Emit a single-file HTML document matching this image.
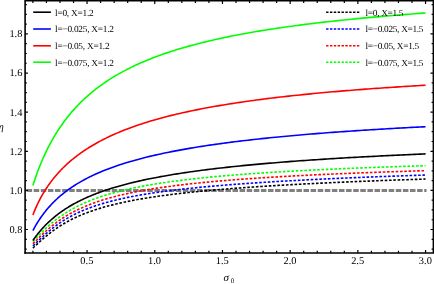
<!DOCTYPE html><html><head><meta charset="utf-8"><style>html,body{margin:0;padding:0;background:#fff;}svg{display:block;}text{font-family:"Liberation Serif",serif;fill:#000;}</style></head><body>
<svg width="434" height="284" viewBox="0 0 434 284">
<defs><filter id="b" x="-5%" y="-5%" width="110%" height="110%"><feGaussianBlur stdDeviation="0.22"/></filter></defs>
<rect width="434" height="284" fill="#fff"/>
<line x1="26.60" y1="190.40" x2="426.56" y2="190.40" stroke="#808080" stroke-width="3" stroke-dasharray="5.5 1.6"/>
<path d="M32.90,248.03 L33.76,247.27 L34.61,246.49 L35.47,245.71 L36.33,244.92 L37.18,244.13 L38.04,243.34 L38.90,242.55 L39.76,241.77 L40.61,240.99 L41.47,240.22 L42.33,239.45 L43.18,238.70 L44.04,237.95 L44.90,237.22 L45.75,236.49 L46.61,235.78 L47.47,235.07 L48.33,234.38 L49.18,233.70 L50.04,233.03 L50.90,232.37 L51.75,231.72 L52.61,231.08 L53.47,230.45 L54.32,229.83 L55.18,229.23 L56.04,228.63 L56.89,228.04 L57.75,227.47 L58.61,226.90 L59.47,226.34 L60.32,225.80 L61.18,225.26 L62.04,224.73 L62.89,224.21 L63.75,223.71 L64.61,223.20 L65.46,222.71 L66.32,222.23 L67.18,221.75 L68.04,221.29 L68.89,220.83 L69.75,220.37 L70.61,219.93 L71.46,219.49 L72.32,219.07 L73.18,218.64 L74.03,218.23 L74.89,217.82 L75.75,217.42 L76.61,217.02 L77.46,216.63 L78.32,216.25 L79.18,215.88 L80.03,215.51 L80.89,215.14 L81.75,214.78 L82.60,214.43 L83.46,214.08 L84.32,213.74 L85.17,213.40 L86.03,213.07 L86.89,212.75 L87.75,212.42 L88.60,212.11 L89.46,211.80 L90.32,211.49 L91.17,211.18 L92.03,210.89 L92.89,210.59 L93.74,210.30 L94.60,210.02 L95.46,209.73 L96.32,209.46 L97.17,209.18 L98.03,208.91 L98.89,208.65 L99.74,208.38 L100.60,208.13 L103.33,207.32 L106.06,206.56 L108.79,205.82 L111.52,205.11 L114.25,204.43 L116.98,203.78 L119.72,203.15 L122.45,202.55 L125.18,201.96 L127.91,201.40 L130.64,200.86 L133.37,200.33 L136.10,199.82 L138.83,199.33 L141.56,198.86 L144.29,198.40 L147.02,197.95 L149.75,197.52 L152.48,197.10 L155.22,196.69 L157.95,196.30 L160.68,195.91 L163.41,195.54 L166.14,195.17 L168.87,194.82 L171.60,194.47 L174.33,194.13 L177.06,193.81 L179.79,193.48 L182.52,193.17 L185.25,192.87 L187.98,192.57 L190.71,192.28 L193.45,191.99 L196.18,191.71 L198.91,191.44 L201.64,191.17 L204.37,190.91 L207.10,190.66 L209.83,190.41 L212.56,190.16 L215.29,189.92 L218.02,189.68 L220.75,189.45 L223.48,189.23 L226.21,189.00 L228.95,188.78 L231.68,188.57 L234.41,188.36 L237.14,188.15 L239.87,187.95 L242.60,187.75 L245.33,187.55 L248.06,187.36 L250.79,187.17 L253.52,186.98 L256.25,186.80 L258.98,186.62 L261.71,186.44 L264.45,186.26 L267.18,186.09 L269.91,185.92 L272.64,185.75 L275.37,185.59 L278.10,185.42 L280.83,185.26 L283.56,185.10 L286.29,184.95 L289.02,184.79 L291.75,184.64 L294.48,184.49 L297.21,184.34 L299.95,184.20 L302.68,184.06 L305.41,183.91 L308.14,183.77 L310.87,183.64 L313.60,183.50 L316.33,183.37 L319.06,183.23 L321.79,183.10 L324.52,182.97 L327.25,182.84 L329.98,182.72 L332.71,182.59 L335.45,182.47 L338.18,182.35 L340.91,182.23 L343.64,182.11 L346.37,181.99 L349.10,181.87 L351.83,181.76 L354.56,181.64 L357.29,181.53 L360.02,181.42 L362.75,181.31 L365.48,181.20 L368.21,181.09 L370.94,180.99 L373.68,180.88 L376.41,180.78 L379.14,180.67 L381.87,180.57 L384.60,180.47 L387.33,180.37 L390.06,180.27 L392.79,180.17 L395.52,180.07 L398.25,179.98 L400.98,179.88 L403.71,179.79 L406.44,179.70 L409.18,179.60 L411.91,179.51 L414.64,179.42 L417.37,179.33 L420.10,179.24 L422.83,179.15 L425.56,179.07" fill="none" stroke="#000000" stroke-width="1.6" stroke-dasharray="2.6 1.7" stroke-linejoin="round"/>
<path d="M32.90,245.83 L33.76,245.07 L34.61,244.30 L35.47,243.50 L36.33,242.70 L37.18,241.89 L38.04,241.07 L38.90,240.26 L39.76,239.44 L40.61,238.63 L41.47,237.83 L42.33,237.03 L43.18,236.24 L44.04,235.45 L44.90,234.68 L45.75,233.91 L46.61,233.16 L47.47,232.42 L48.33,231.69 L49.18,230.97 L50.04,230.26 L50.90,229.56 L51.75,228.87 L52.61,228.20 L53.47,227.53 L54.32,226.88 L55.18,226.24 L56.04,225.61 L56.89,224.99 L57.75,224.38 L58.61,223.78 L59.47,223.19 L60.32,222.62 L61.18,222.05 L62.04,221.49 L62.89,220.95 L63.75,220.41 L64.61,219.88 L65.46,219.36 L66.32,218.86 L67.18,218.36 L68.04,217.87 L68.89,217.38 L69.75,216.91 L70.61,216.44 L71.46,215.99 L72.32,215.54 L73.18,215.09 L74.03,214.66 L74.89,214.23 L75.75,213.81 L76.61,213.40 L77.46,213.00 L78.32,212.60 L79.18,212.20 L80.03,211.82 L80.89,211.44 L81.75,211.07 L82.60,210.70 L83.46,210.34 L84.32,209.98 L85.17,209.63 L86.03,209.29 L86.89,208.95 L87.75,208.62 L88.60,208.29 L89.46,207.97 L90.32,207.65 L91.17,207.34 L92.03,207.03 L92.89,206.73 L93.74,206.43 L94.60,206.13 L95.46,205.84 L96.32,205.56 L97.17,205.28 L98.03,205.00 L98.89,204.73 L99.74,204.46 L100.60,204.19 L103.33,203.37 L106.06,202.59 L108.79,201.84 L111.52,201.12 L114.25,200.43 L116.98,199.76 L119.72,199.13 L122.45,198.52 L125.18,197.93 L127.91,197.36 L130.64,196.81 L133.37,196.29 L136.10,195.78 L138.83,195.28 L141.56,194.81 L144.29,194.35 L147.02,193.90 L149.75,193.47 L152.48,193.05 L155.22,192.65 L157.95,192.25 L160.68,191.87 L163.41,191.50 L166.14,191.13 L168.87,190.78 L171.60,190.44 L174.33,190.10 L177.06,189.78 L179.79,189.46 L182.52,189.15 L185.25,188.85 L187.98,188.55 L190.71,188.26 L193.45,187.98 L196.18,187.71 L198.91,187.44 L201.64,187.17 L204.37,186.91 L207.10,186.66 L209.83,186.41 L212.56,186.17 L215.29,185.93 L218.02,185.70 L220.75,185.47 L223.48,185.24 L226.21,185.02 L228.95,184.80 L231.68,184.59 L234.41,184.38 L237.14,184.18 L239.87,183.98 L242.60,183.78 L245.33,183.58 L248.06,183.39 L250.79,183.20 L253.52,183.01 L256.25,182.83 L258.98,182.65 L261.71,182.47 L264.45,182.30 L267.18,182.13 L269.91,181.96 L272.64,181.79 L275.37,181.62 L278.10,181.46 L280.83,181.30 L283.56,181.14 L286.29,180.99 L289.02,180.83 L291.75,180.68 L294.48,180.53 L297.21,180.38 L299.95,180.24 L302.68,180.09 L305.41,179.95 L308.14,179.81 L310.87,179.67 L313.60,179.54 L316.33,179.40 L319.06,179.27 L321.79,179.13 L324.52,179.00 L327.25,178.87 L329.98,178.75 L332.71,178.62 L335.45,178.50 L338.18,178.37 L340.91,178.25 L343.64,178.13 L346.37,178.01 L349.10,177.89 L351.83,177.78 L354.56,177.66 L357.29,177.55 L360.02,177.43 L362.75,177.32 L365.48,177.21 L368.21,177.10 L370.94,176.99 L373.68,176.89 L376.41,176.78 L379.14,176.67 L381.87,176.57 L384.60,176.47 L387.33,176.37 L390.06,176.26 L392.79,176.16 L395.52,176.07 L398.25,175.97 L400.98,175.87 L403.71,175.77 L406.44,175.68 L409.18,175.58 L411.91,175.49 L414.64,175.40 L417.37,175.30 L420.10,175.21 L422.83,175.12 L425.56,175.03" fill="none" stroke="#0000ff" stroke-width="1.6" stroke-dasharray="2.6 1.7" stroke-linejoin="round"/>
<path d="M32.90,243.73 L33.76,242.90 L34.61,242.05 L35.47,241.20 L36.33,240.35 L37.18,239.49 L38.04,238.63 L38.90,237.78 L39.76,236.94 L40.61,236.10 L41.47,235.27 L42.33,234.44 L43.18,233.63 L44.04,232.83 L44.90,232.04 L45.75,231.26 L46.61,230.49 L47.47,229.73 L48.33,228.98 L49.18,228.25 L50.04,227.53 L50.90,226.82 L51.75,226.12 L52.61,225.43 L53.47,224.75 L54.32,224.09 L55.18,223.44 L56.04,222.79 L56.89,222.16 L57.75,221.54 L58.61,220.93 L59.47,220.33 L60.32,219.74 L61.18,219.17 L62.04,218.60 L62.89,218.04 L63.75,217.49 L64.61,216.95 L65.46,216.42 L66.32,215.90 L67.18,215.38 L68.04,214.88 L68.89,214.38 L69.75,213.90 L70.61,213.42 L71.46,212.95 L72.32,212.48 L73.18,212.03 L74.03,211.58 L74.89,211.14 L75.75,210.71 L76.61,210.28 L77.46,209.86 L78.32,209.45 L79.18,209.04 L80.03,208.64 L80.89,208.25 L81.75,207.86 L82.60,207.48 L83.46,207.11 L84.32,206.74 L85.17,206.37 L86.03,206.02 L86.89,205.66 L87.75,205.32 L88.60,204.98 L89.46,204.64 L90.32,204.31 L91.17,203.98 L92.03,203.66 L92.89,203.34 L93.74,203.03 L94.60,202.72 L95.46,202.42 L96.32,202.12 L97.17,201.82 L98.03,201.53 L98.89,201.24 L99.74,200.96 L100.60,200.68 L103.33,199.82 L106.06,198.99 L108.79,198.20 L111.52,197.44 L114.25,196.71 L116.98,196.00 L119.72,195.33 L122.45,194.68 L125.18,194.05 L127.91,193.45 L130.64,192.87 L133.37,192.31 L136.10,191.77 L138.83,191.25 L141.56,190.74 L144.29,190.25 L147.02,189.78 L149.75,189.32 L152.48,188.87 L155.22,188.44 L157.95,188.02 L160.68,187.62 L163.41,187.22 L166.14,186.84 L168.87,186.46 L171.60,186.10 L174.33,185.75 L177.06,185.40 L179.79,185.07 L182.52,184.74 L185.25,184.42 L187.98,184.11 L190.71,183.81 L193.45,183.51 L196.18,183.23 L198.91,182.94 L201.64,182.67 L204.37,182.40 L207.10,182.14 L209.83,181.88 L212.56,181.63 L215.29,181.38 L218.02,181.14 L220.75,180.90 L223.48,180.67 L226.21,180.44 L228.95,180.22 L231.68,180.00 L234.41,179.78 L237.14,179.57 L239.87,179.37 L242.60,179.17 L245.33,178.97 L248.06,178.77 L250.79,178.58 L253.52,178.39 L256.25,178.21 L258.98,178.02 L261.71,177.85 L264.45,177.67 L267.18,177.50 L269.91,177.33 L272.64,177.16 L275.37,177.00 L278.10,176.83 L280.83,176.67 L283.56,176.52 L286.29,176.36 L289.02,176.21 L291.75,176.06 L294.48,175.91 L297.21,175.77 L299.95,175.62 L302.68,175.48 L305.41,175.34 L308.14,175.20 L310.87,175.07 L313.60,174.94 L316.33,174.80 L319.06,174.67 L321.79,174.55 L324.52,174.42 L327.25,174.29 L329.98,174.17 L332.71,174.05 L335.45,173.93 L338.18,173.81 L340.91,173.69 L343.64,173.58 L346.37,173.46 L349.10,173.35 L351.83,173.24 L354.56,173.13 L357.29,173.02 L360.02,172.91 L362.75,172.81 L365.48,172.70 L368.21,172.60 L370.94,172.50 L373.68,172.39 L376.41,172.29 L379.14,172.20 L381.87,172.10 L384.60,172.00 L387.33,171.90 L390.06,171.81 L392.79,171.72 L395.52,171.62 L398.25,171.53 L400.98,171.44 L403.71,171.35 L406.44,171.26 L409.18,171.17 L411.91,171.09 L414.64,171.00 L417.37,170.92 L420.10,170.83 L422.83,170.75 L425.56,170.67" fill="none" stroke="#ff0000" stroke-width="1.6" stroke-dasharray="2.6 1.7" stroke-linejoin="round"/>
<path d="M32.90,241.48 L33.76,240.59 L34.61,239.70 L35.47,238.80 L36.33,237.90 L37.18,237.01 L38.04,236.11 L38.90,235.22 L39.76,234.34 L40.61,233.47 L41.47,232.61 L42.33,231.75 L43.18,230.91 L44.04,230.08 L44.90,229.26 L45.75,228.45 L46.61,227.65 L47.47,226.87 L48.33,226.10 L49.18,225.34 L50.04,224.59 L50.90,223.86 L51.75,223.13 L52.61,222.42 L53.47,221.72 L54.32,221.04 L55.18,220.36 L56.04,219.70 L56.89,219.05 L57.75,218.41 L58.61,217.78 L59.47,217.16 L60.32,216.55 L61.18,215.95 L62.04,215.36 L62.89,214.79 L63.75,214.22 L64.61,213.66 L65.46,213.11 L66.32,212.57 L67.18,212.04 L68.04,211.52 L68.89,211.01 L69.75,210.50 L70.61,210.01 L71.46,209.52 L72.32,209.04 L73.18,208.57 L74.03,208.10 L74.89,207.65 L75.75,207.20 L76.61,206.76 L77.46,206.32 L78.32,205.90 L79.18,205.47 L80.03,205.06 L80.89,204.65 L81.75,204.25 L82.60,203.86 L83.46,203.47 L84.32,203.08 L85.17,202.71 L86.03,202.33 L86.89,201.97 L87.75,201.61 L88.60,201.25 L89.46,200.90 L90.32,200.56 L91.17,200.22 L92.03,199.88 L92.89,199.55 L93.74,199.23 L94.60,198.91 L95.46,198.59 L96.32,198.28 L97.17,197.97 L98.03,197.67 L98.89,197.37 L99.74,197.08 L100.60,196.79 L103.33,195.89 L106.06,195.02 L108.79,194.20 L111.52,193.40 L114.25,192.64 L116.98,191.91 L119.72,191.21 L122.45,190.53 L125.18,189.88 L127.91,189.25 L130.64,188.64 L133.37,188.05 L136.10,187.49 L138.83,186.94 L141.56,186.41 L144.29,185.90 L147.02,185.41 L149.75,184.93 L152.48,184.46 L155.22,184.01 L157.95,183.58 L160.68,183.15 L163.41,182.74 L166.14,182.34 L168.87,181.95 L171.60,181.57 L174.33,181.20 L177.06,180.84 L179.79,180.49 L182.52,180.15 L185.25,179.82 L187.98,179.50 L190.71,179.18 L193.45,178.87 L196.18,178.57 L198.91,178.28 L201.64,177.99 L204.37,177.71 L207.10,177.44 L209.83,177.17 L212.56,176.91 L215.29,176.65 L218.02,176.40 L220.75,176.16 L223.48,175.92 L226.21,175.68 L228.95,175.45 L231.68,175.22 L234.41,175.00 L237.14,174.78 L239.87,174.57 L242.60,174.36 L245.33,174.16 L248.06,173.95 L250.79,173.76 L253.52,173.56 L256.25,173.37 L258.98,173.18 L261.71,173.00 L264.45,172.82 L267.18,172.64 L269.91,172.46 L272.64,172.29 L275.37,172.12 L278.10,171.96 L280.83,171.79 L283.56,171.63 L286.29,171.47 L289.02,171.32 L291.75,171.16 L294.48,171.01 L297.21,170.86 L299.95,170.71 L302.68,170.57 L305.41,170.43 L308.14,170.29 L310.87,170.15 L313.60,170.01 L316.33,169.88 L319.06,169.74 L321.79,169.61 L324.52,169.48 L327.25,169.36 L329.98,169.23 L332.71,169.11 L335.45,168.99 L338.18,168.86 L340.91,168.75 L343.64,168.63 L346.37,168.51 L349.10,168.40 L351.83,168.28 L354.56,168.17 L357.29,168.06 L360.02,167.95 L362.75,167.85 L365.48,167.74 L368.21,167.63 L370.94,167.53 L373.68,167.43 L376.41,167.33 L379.14,167.23 L381.87,167.13 L384.60,167.03 L387.33,166.93 L390.06,166.84 L392.79,166.74 L395.52,166.65 L398.25,166.56 L400.98,166.47 L403.71,166.37 L406.44,166.29 L409.18,166.20 L411.91,166.11 L414.64,166.02 L417.37,165.94 L420.10,165.85 L422.83,165.77 L425.56,165.69" fill="none" stroke="#00ff00" stroke-width="1.6" stroke-dasharray="2.6 1.7" stroke-linejoin="round"/>
<path d="M32.90,240.49 L33.76,239.26 L34.61,238.07 L35.47,236.90 L36.33,235.77 L37.18,234.66 L38.04,233.58 L38.90,232.52 L39.76,231.49 L40.61,230.48 L41.47,229.50 L42.33,228.54 L43.18,227.60 L44.04,226.68 L44.90,225.79 L45.75,224.91 L46.61,224.05 L47.47,223.21 L48.33,222.39 L49.18,221.58 L50.04,220.79 L50.90,220.02 L51.75,219.26 L52.61,218.52 L53.47,217.80 L54.32,217.08 L55.18,216.38 L56.04,215.70 L56.89,215.03 L57.75,214.37 L58.61,213.72 L59.47,213.08 L60.32,212.46 L61.18,211.85 L62.04,211.25 L62.89,210.66 L63.75,210.07 L64.61,209.50 L65.46,208.94 L66.32,208.39 L67.18,207.85 L68.04,207.32 L68.89,206.79 L69.75,206.28 L70.61,205.77 L71.46,205.27 L72.32,204.78 L73.18,204.30 L74.03,203.82 L74.89,203.35 L75.75,202.89 L76.61,202.44 L77.46,201.99 L78.32,201.55 L79.18,201.11 L80.03,200.68 L80.89,200.26 L81.75,199.85 L82.60,199.44 L83.46,199.03 L84.32,198.64 L85.17,198.24 L86.03,197.86 L86.89,197.47 L87.75,197.10 L88.60,196.73 L89.46,196.36 L90.32,196.00 L91.17,195.64 L92.03,195.29 L92.89,194.94 L93.74,194.60 L94.60,194.26 L95.46,193.92 L96.32,193.59 L97.17,193.27 L98.03,192.94 L98.89,192.63 L99.74,192.31 L100.60,192.00 L103.33,191.04 L106.06,190.11 L108.79,189.21 L111.52,188.34 L114.25,187.51 L116.98,186.70 L119.72,185.92 L122.45,185.17 L125.18,184.44 L127.91,183.73 L130.64,183.04 L133.37,182.38 L136.10,181.73 L138.83,181.10 L141.56,180.49 L144.29,179.90 L147.02,179.32 L149.75,178.76 L152.48,178.22 L155.22,177.68 L157.95,177.17 L160.68,176.66 L163.41,176.17 L166.14,175.68 L168.87,175.21 L171.60,174.76 L174.33,174.31 L177.06,173.87 L179.79,173.44 L182.52,173.02 L185.25,172.61 L187.98,172.21 L190.71,171.82 L193.45,171.44 L196.18,171.06 L198.91,170.69 L201.64,170.33 L204.37,169.98 L207.10,169.63 L209.83,169.29 L212.56,168.96 L215.29,168.63 L218.02,168.31 L220.75,167.99 L223.48,167.68 L226.21,167.38 L228.95,167.08 L231.68,166.79 L234.41,166.50 L237.14,166.22 L239.87,165.94 L242.60,165.67 L245.33,165.40 L248.06,165.13 L250.79,164.87 L253.52,164.62 L256.25,164.36 L258.98,164.12 L261.71,163.87 L264.45,163.63 L267.18,163.40 L269.91,163.16 L272.64,162.93 L275.37,162.71 L278.10,162.49 L280.83,162.27 L283.56,162.05 L286.29,161.84 L289.02,161.63 L291.75,161.42 L294.48,161.22 L297.21,161.02 L299.95,160.82 L302.68,160.62 L305.41,160.43 L308.14,160.24 L310.87,160.05 L313.60,159.87 L316.33,159.68 L319.06,159.50 L321.79,159.33 L324.52,159.15 L327.25,158.98 L329.98,158.81 L332.71,158.64 L335.45,158.47 L338.18,158.30 L340.91,158.14 L343.64,157.98 L346.37,157.82 L349.10,157.67 L351.83,157.51 L354.56,157.36 L357.29,157.21 L360.02,157.06 L362.75,156.91 L365.48,156.76 L368.21,156.62 L370.94,156.47 L373.68,156.33 L376.41,156.19 L379.14,156.06 L381.87,155.92 L384.60,155.78 L387.33,155.65 L390.06,155.52 L392.79,155.39 L395.52,155.26 L398.25,155.13 L400.98,155.00 L403.71,154.88 L406.44,154.75 L409.18,154.63 L411.91,154.51 L414.64,154.39 L417.37,154.27 L420.10,154.15 L422.83,154.04 L425.56,153.92" fill="none" stroke="#000000" stroke-width="1.6" stroke-linejoin="round"/>
<path d="M32.90,230.64 L33.76,229.01 L34.61,227.44 L35.47,225.92 L36.33,224.46 L37.18,223.03 L38.04,221.66 L38.90,220.32 L39.76,219.02 L40.61,217.76 L41.47,216.54 L42.33,215.35 L43.18,214.19 L44.04,213.06 L44.90,211.96 L45.75,210.88 L46.61,209.84 L47.47,208.82 L48.33,207.82 L49.18,206.85 L50.04,205.89 L50.90,204.96 L51.75,204.06 L52.61,203.17 L53.47,202.30 L54.32,201.44 L55.18,200.61 L56.04,199.79 L56.89,199.00 L57.75,198.21 L58.61,197.44 L59.47,196.69 L60.32,195.95 L61.18,195.23 L62.04,194.52 L62.89,193.82 L63.75,193.13 L64.61,192.46 L65.46,191.80 L66.32,191.15 L67.18,190.51 L68.04,189.89 L68.89,189.27 L69.75,188.66 L70.61,188.07 L71.46,187.48 L72.32,186.91 L73.18,186.34 L74.03,185.78 L74.89,185.23 L75.75,184.69 L76.61,184.16 L77.46,183.64 L78.32,183.12 L79.18,182.61 L80.03,182.11 L80.89,181.62 L81.75,181.13 L82.60,180.65 L83.46,180.18 L84.32,179.71 L85.17,179.25 L86.03,178.80 L86.89,178.36 L87.75,177.91 L88.60,177.48 L89.46,177.05 L90.32,176.63 L91.17,176.21 L92.03,175.80 L92.89,175.39 L93.74,174.99 L94.60,174.59 L95.46,174.20 L96.32,173.82 L97.17,173.43 L98.03,173.06 L98.89,172.69 L99.74,172.32 L100.60,171.95 L103.33,170.82 L106.06,169.73 L108.79,168.68 L111.52,167.67 L114.25,166.69 L116.98,165.75 L119.72,164.83 L122.45,163.94 L125.18,163.09 L127.91,162.25 L130.64,161.44 L133.37,160.66 L136.10,159.90 L138.83,159.16 L141.56,158.44 L144.29,157.74 L147.02,157.06 L149.75,156.40 L152.48,155.75 L155.22,155.12 L157.95,154.50 L160.68,153.91 L163.41,153.32 L166.14,152.75 L168.87,152.19 L171.60,151.65 L174.33,151.12 L177.06,150.60 L179.79,150.09 L182.52,149.59 L185.25,149.10 L187.98,148.63 L190.71,148.16 L193.45,147.70 L196.18,147.25 L198.91,146.81 L201.64,146.38 L204.37,145.96 L207.10,145.55 L209.83,145.14 L212.56,144.74 L215.29,144.35 L218.02,143.97 L220.75,143.59 L223.48,143.22 L226.21,142.86 L228.95,142.50 L231.68,142.15 L234.41,141.81 L237.14,141.47 L239.87,141.14 L242.60,140.81 L245.33,140.49 L248.06,140.17 L250.79,139.86 L253.52,139.55 L256.25,139.25 L258.98,138.95 L261.71,138.66 L264.45,138.37 L267.18,138.09 L269.91,137.81 L272.64,137.53 L275.37,137.26 L278.10,136.99 L280.83,136.73 L283.56,136.47 L286.29,136.22 L289.02,135.96 L291.75,135.72 L294.48,135.47 L297.21,135.23 L299.95,134.99 L302.68,134.76 L305.41,134.52 L308.14,134.29 L310.87,134.07 L313.60,133.85 L316.33,133.63 L319.06,133.41 L321.79,133.20 L324.52,132.98 L327.25,132.78 L329.98,132.57 L332.71,132.37 L335.45,132.17 L338.18,131.97 L340.91,131.77 L343.64,131.58 L346.37,131.39 L349.10,131.20 L351.83,131.01 L354.56,130.83 L357.29,130.64 L360.02,130.46 L362.75,130.29 L365.48,130.11 L368.21,129.94 L370.94,129.76 L373.68,129.59 L376.41,129.43 L379.14,129.26 L381.87,129.09 L384.60,128.93 L387.33,128.77 L390.06,128.61 L392.79,128.46 L395.52,128.30 L398.25,128.15 L400.98,127.99 L403.71,127.84 L406.44,127.69 L409.18,127.55 L411.91,127.40 L414.64,127.26 L417.37,127.11 L420.10,126.97 L422.83,126.83 L425.56,126.69" fill="none" stroke="#0000ff" stroke-width="1.6" stroke-linejoin="round"/>
<path d="M32.90,214.92 L33.76,212.72 L34.61,210.62 L35.47,208.60 L36.33,206.66 L37.18,204.80 L38.04,203.01 L38.90,201.28 L39.76,199.60 L40.61,197.99 L41.47,196.42 L42.33,194.90 L43.18,193.43 L44.04,192.00 L44.90,190.61 L45.75,189.26 L46.61,187.95 L47.47,186.67 L48.33,185.42 L49.18,184.21 L50.04,183.02 L50.90,181.86 L51.75,180.73 L52.61,179.63 L53.47,178.54 L54.32,177.49 L55.18,176.45 L56.04,175.44 L56.89,174.45 L57.75,173.48 L58.61,172.53 L59.47,171.60 L60.32,170.69 L61.18,169.79 L62.04,168.91 L62.89,168.05 L63.75,167.20 L64.61,166.37 L65.46,165.55 L66.32,164.75 L67.18,163.96 L68.04,163.19 L68.89,162.42 L69.75,161.68 L70.61,160.94 L71.46,160.21 L72.32,159.50 L73.18,158.80 L74.03,158.11 L74.89,157.43 L75.75,156.76 L76.61,156.10 L77.46,155.45 L78.32,154.81 L79.18,154.18 L80.03,153.55 L80.89,152.94 L81.75,152.34 L82.60,151.74 L83.46,151.15 L84.32,150.57 L85.17,150.00 L86.03,149.44 L86.89,148.88 L87.75,148.33 L88.60,147.79 L89.46,147.26 L90.32,146.73 L91.17,146.21 L92.03,145.70 L92.89,145.19 L93.74,144.69 L94.60,144.19 L95.46,143.70 L96.32,143.22 L97.17,142.74 L98.03,142.27 L98.89,141.81 L99.74,141.35 L100.60,140.89 L103.33,139.48 L106.06,138.11 L108.79,136.80 L111.52,135.52 L114.25,134.29 L116.98,133.11 L119.72,131.95 L122.45,130.84 L125.18,129.76 L127.91,128.71 L130.64,127.70 L133.37,126.71 L136.10,125.75 L138.83,124.82 L141.56,123.91 L144.29,123.03 L147.02,122.18 L149.75,121.34 L152.48,120.53 L155.22,119.74 L157.95,118.97 L160.68,118.22 L163.41,117.48 L166.14,116.77 L168.87,116.07 L171.60,115.39 L174.33,114.72 L177.06,114.07 L179.79,113.44 L182.52,112.81 L185.25,112.21 L187.98,111.61 L190.71,111.03 L193.45,110.46 L196.18,109.90 L198.91,109.36 L201.64,108.82 L204.37,108.30 L207.10,107.79 L209.83,107.29 L212.56,106.79 L215.29,106.31 L218.02,105.84 L220.75,105.37 L223.48,104.92 L226.21,104.47 L228.95,104.03 L231.68,103.60 L234.41,103.18 L237.14,102.76 L239.87,102.36 L242.60,101.96 L245.33,101.56 L248.06,101.18 L250.79,100.80 L253.52,100.42 L256.25,100.06 L258.98,99.70 L261.71,99.34 L264.45,98.99 L267.18,98.65 L269.91,98.31 L272.64,97.98 L275.37,97.65 L278.10,97.33 L280.83,97.01 L283.56,96.70 L286.29,96.39 L289.02,96.09 L291.75,95.79 L294.48,95.50 L297.21,95.21 L299.95,94.93 L302.68,94.65 L305.41,94.37 L308.14,94.10 L310.87,93.83 L313.60,93.57 L316.33,93.31 L319.06,93.05 L321.79,92.80 L324.52,92.55 L327.25,92.30 L329.98,92.06 L332.71,91.82 L335.45,91.58 L338.18,91.35 L340.91,91.12 L343.64,90.89 L346.37,90.66 L349.10,90.44 L351.83,90.22 L354.56,90.01 L357.29,89.80 L360.02,89.59 L362.75,89.38 L365.48,89.17 L368.21,88.97 L370.94,88.77 L373.68,88.57 L376.41,88.38 L379.14,88.19 L381.87,88.00 L384.60,87.81 L387.33,87.62 L390.06,87.44 L392.79,87.26 L395.52,87.08 L398.25,86.90 L400.98,86.72 L403.71,86.55 L406.44,86.38 L409.18,86.21 L411.91,86.04 L414.64,85.88 L417.37,85.71 L420.10,85.55 L422.83,85.39 L425.56,85.24" fill="none" stroke="#ff0000" stroke-width="1.6" stroke-linejoin="round"/>
<path d="M32.90,185.41 L33.76,182.73 L34.61,180.14 L35.47,177.63 L36.33,175.19 L37.18,172.83 L38.04,170.53 L38.90,168.30 L39.76,166.13 L40.61,164.01 L41.47,161.96 L42.33,159.95 L43.18,158.00 L44.04,156.09 L44.90,154.23 L45.75,152.42 L46.61,150.64 L47.47,148.91 L48.33,147.22 L49.18,145.56 L50.04,143.94 L50.90,142.36 L51.75,140.81 L52.61,139.29 L53.47,137.80 L54.32,136.35 L55.18,134.92 L56.04,133.52 L56.89,132.15 L57.75,130.81 L58.61,129.49 L59.47,128.19 L60.32,126.92 L61.18,125.68 L62.04,124.45 L62.89,123.25 L63.75,122.07 L64.61,120.91 L65.46,119.77 L66.32,118.66 L67.18,117.56 L68.04,116.47 L68.89,115.41 L69.75,114.37 L70.61,113.34 L71.46,112.33 L72.32,111.33 L73.18,110.35 L74.03,109.39 L74.89,108.44 L75.75,107.51 L76.61,106.59 L77.46,105.68 L78.32,104.79 L79.18,103.91 L80.03,103.05 L80.89,102.19 L81.75,101.35 L82.60,100.53 L83.46,99.71 L84.32,98.91 L85.17,98.11 L86.03,97.33 L86.89,96.56 L87.75,95.80 L88.60,95.05 L89.46,94.31 L90.32,93.58 L91.17,92.86 L92.03,92.15 L92.89,91.45 L93.74,90.76 L94.60,90.08 L95.46,89.40 L96.32,88.74 L97.17,88.08 L98.03,87.43 L98.89,86.79 L99.74,86.16 L100.60,85.53 L103.33,83.59 L106.06,81.72 L108.79,79.93 L111.52,78.19 L114.25,76.52 L116.98,74.91 L119.72,73.35 L122.45,71.84 L125.18,70.39 L127.91,68.98 L130.64,67.61 L133.37,66.29 L136.10,65.01 L138.83,63.77 L141.56,62.56 L144.29,61.39 L147.02,60.25 L149.75,59.15 L152.48,58.07 L155.22,57.03 L157.95,56.01 L160.68,55.02 L163.41,54.06 L166.14,53.12 L168.87,52.20 L171.60,51.31 L174.33,50.44 L177.06,49.59 L179.79,48.76 L182.52,47.95 L185.25,47.16 L187.98,46.39 L190.71,45.63 L193.45,44.90 L196.18,44.18 L198.91,43.47 L201.64,42.78 L204.37,42.11 L207.10,41.45 L209.83,40.80 L212.56,40.17 L215.29,39.55 L218.02,38.94 L220.75,38.35 L223.48,37.76 L226.21,37.19 L228.95,36.63 L231.68,36.08 L234.41,35.54 L237.14,35.01 L239.87,34.49 L242.60,33.98 L245.33,33.48 L248.06,32.99 L250.79,32.51 L253.52,32.03 L256.25,31.57 L258.98,31.11 L261.71,30.66 L264.45,30.22 L267.18,29.78 L269.91,29.36 L272.64,28.94 L275.37,28.52 L278.10,28.12 L280.83,27.72 L283.56,27.32 L286.29,26.94 L289.02,26.55 L291.75,26.18 L294.48,25.81 L297.21,25.45 L299.95,25.09 L302.68,24.74 L305.41,24.39 L308.14,24.05 L310.87,23.71 L313.60,23.38 L316.33,23.05 L319.06,22.73 L321.79,22.41 L324.52,22.09 L327.25,21.79 L329.98,21.48 L332.71,21.18 L335.45,20.88 L338.18,20.59 L340.91,20.30 L343.64,20.02 L346.37,19.74 L349.10,19.46 L351.83,19.19 L354.56,18.92 L357.29,18.65 L360.02,18.39 L362.75,18.13 L365.48,17.87 L368.21,17.62 L370.94,17.37 L373.68,17.12 L376.41,16.88 L379.14,16.64 L381.87,16.40 L384.60,16.17 L387.33,15.93 L390.06,15.71 L392.79,15.48 L395.52,15.26 L398.25,15.03 L400.98,14.82 L403.71,14.60 L406.44,14.39 L409.18,14.18 L411.91,13.97 L414.64,13.76 L417.37,13.56 L420.10,13.36 L422.83,13.16 L425.56,12.96" fill="none" stroke="#00ff00" stroke-width="1.6" stroke-linejoin="round"/>
<g stroke="#000" fill="none">
<line x1="25.1" y1="0" x2="25.1" y2="253.8" stroke-width="1.6"/>
<line x1="24.3" y1="253.0" x2="434" y2="253.0" stroke-width="1.6"/>
<line x1="25.1" y1="0.7" x2="434" y2="0.7" stroke-width="1.4"/>
<line x1="433.3" y1="0" x2="433.3" y2="253.0" stroke-width="1.4"/>
<path d="M32.90,253.0 v-2.2 M32.90,0.7 v2.4 M46.44,253.0 v-2.2 M46.44,0.7 v2.4 M59.98,253.0 v-2.2 M59.98,0.7 v2.4 M73.52,253.0 v-2.2 M73.52,0.7 v2.4 M87.06,253.0 v-3.0999999999999996 M87.06,0.7 v3.3 M100.60,253.0 v-2.2 M100.60,0.7 v2.4 M114.14,253.0 v-2.2 M114.14,0.7 v2.4 M127.68,253.0 v-2.2 M127.68,0.7 v2.4 M141.22,253.0 v-2.2 M141.22,0.7 v2.4 M154.76,253.0 v-3.0999999999999996 M154.76,0.7 v3.3 M168.30,253.0 v-2.2 M168.30,0.7 v2.4 M181.84,253.0 v-2.2 M181.84,0.7 v2.4 M195.38,253.0 v-2.2 M195.38,0.7 v2.4 M208.92,253.0 v-2.2 M208.92,0.7 v2.4 M222.46,253.0 v-3.0999999999999996 M222.46,0.7 v3.3 M236.00,253.0 v-2.2 M236.00,0.7 v2.4 M249.54,253.0 v-2.2 M249.54,0.7 v2.4 M263.08,253.0 v-2.2 M263.08,0.7 v2.4 M276.62,253.0 v-2.2 M276.62,0.7 v2.4 M290.16,253.0 v-3.0999999999999996 M290.16,0.7 v3.3 M303.70,253.0 v-2.2 M303.70,0.7 v2.4 M317.24,253.0 v-2.2 M317.24,0.7 v2.4 M330.78,253.0 v-2.2 M330.78,0.7 v2.4 M344.32,253.0 v-2.2 M344.32,0.7 v2.4 M357.86,253.0 v-3.0999999999999996 M357.86,0.7 v3.3 M371.40,253.0 v-2.2 M371.40,0.7 v2.4 M384.94,253.0 v-2.2 M384.94,0.7 v2.4 M398.48,253.0 v-2.2 M398.48,0.7 v2.4 M412.02,253.0 v-2.2 M412.02,0.7 v2.4 M425.56,253.0 v-3.0999999999999996 M425.56,0.7 v3.3 M25.1,249.08 h1.7000000000000002 M433.3,249.08 h-1.7000000000000002 M25.1,239.30 h1.7000000000000002 M433.3,239.30 h-1.7000000000000002 M25.1,229.52 h2.8 M433.3,229.52 h-2.8 M25.1,219.74 h1.7000000000000002 M433.3,219.74 h-1.7000000000000002 M25.1,209.96 h1.7000000000000002 M433.3,209.96 h-1.7000000000000002 M25.1,200.18 h1.7000000000000002 M433.3,200.18 h-1.7000000000000002 M25.1,190.40 h2.8 M433.3,190.40 h-2.8 M25.1,180.62 h1.7000000000000002 M433.3,180.62 h-1.7000000000000002 M25.1,170.84 h1.7000000000000002 M433.3,170.84 h-1.7000000000000002 M25.1,161.06 h1.7000000000000002 M433.3,161.06 h-1.7000000000000002 M25.1,151.28 h2.8 M433.3,151.28 h-2.8 M25.1,141.50 h1.7000000000000002 M433.3,141.50 h-1.7000000000000002 M25.1,131.72 h1.7000000000000002 M433.3,131.72 h-1.7000000000000002 M25.1,121.94 h1.7000000000000002 M433.3,121.94 h-1.7000000000000002 M25.1,112.16 h2.8 M433.3,112.16 h-2.8 M25.1,102.38 h1.7000000000000002 M433.3,102.38 h-1.7000000000000002 M25.1,92.60 h1.7000000000000002 M433.3,92.60 h-1.7000000000000002 M25.1,82.82 h1.7000000000000002 M433.3,82.82 h-1.7000000000000002 M25.1,73.04 h2.8 M433.3,73.04 h-2.8 M25.1,63.26 h1.7000000000000002 M433.3,63.26 h-1.7000000000000002 M25.1,53.48 h1.7000000000000002 M433.3,53.48 h-1.7000000000000002 M25.1,43.70 h1.7000000000000002 M433.3,43.70 h-1.7000000000000002 M25.1,33.92 h2.8 M433.3,33.92 h-2.8 M25.1,24.14 h1.7000000000000002 M433.3,24.14 h-1.7000000000000002 M25.1,14.36 h1.7000000000000002 M433.3,14.36 h-1.7000000000000002 M25.1,4.58 h1.7000000000000002 M433.3,4.58 h-1.7000000000000002" stroke-width="1.2"/>
</g>
<g filter="url(#b)" text-rendering="geometricPrecision">
<text x="86.86" y="264.4" font-size="10.4" text-anchor="middle">0.5</text>
<text x="154.56" y="264.4" font-size="10.4" text-anchor="middle">1.0</text>
<text x="222.26" y="264.4" font-size="10.4" text-anchor="middle">1.5</text>
<text x="289.96" y="264.4" font-size="10.4" text-anchor="middle">2.0</text>
<text x="357.66" y="264.4" font-size="10.4" text-anchor="middle">2.5</text>
<text x="425.36" y="264.4" font-size="10.4" text-anchor="middle">3.0</text>
<text x="22.4" y="232.92" font-size="10.4" text-anchor="end">0.8</text>
<text x="22.4" y="193.80" font-size="10.4" text-anchor="end">1.0</text>
<text x="22.4" y="154.68" font-size="10.4" text-anchor="end">1.2</text>
<text x="22.4" y="115.56" font-size="10.4" text-anchor="end">1.4</text>
<text x="22.4" y="76.44" font-size="10.4" text-anchor="end">1.6</text>
<text x="22.4" y="37.32" font-size="10.4" text-anchor="end">1.8</text>
<text x="-1.2" y="130.0" font-size="10" font-style="italic">η</text>
<text x="223.6" y="280.9" font-size="11" font-style="italic">σ</text>
<text x="230.8" y="282.5" font-size="7">0</text>
<line x1="33.2" y1="12.2" x2="50.9" y2="12.2" stroke="#000000" stroke-width="1.6"/>
<text x="55.1" y="15.55" font-size="9.3" letter-spacing="-0.24">l=0, X=1.2</text>
<line x1="326.1" y1="12.2" x2="359.3" y2="12.2" stroke="#000000" stroke-width="1.6" stroke-dasharray="2.4 1.45"/>
<text x="365.6" y="15.55" font-size="9.3" letter-spacing="-0.31">l=0, X=1.5</text>
<line x1="33.2" y1="29.0" x2="50.9" y2="29.0" stroke="#0000ff" stroke-width="1.6"/>
<text x="55.1" y="32.35" font-size="9.3" letter-spacing="-0.24">l=−0.025, X=1.2</text>
<line x1="326.1" y1="29.0" x2="359.3" y2="29.0" stroke="#0000ff" stroke-width="1.6" stroke-dasharray="2.4 1.45"/>
<text x="365.6" y="32.35" font-size="9.3" letter-spacing="-0.31">l=−0.025, X=1.5</text>
<line x1="33.2" y1="45.8" x2="50.9" y2="45.8" stroke="#ff0000" stroke-width="1.6"/>
<text x="55.1" y="49.15" font-size="9.3" letter-spacing="-0.24">l=−0.05, X=1.2</text>
<line x1="326.1" y1="45.8" x2="359.3" y2="45.8" stroke="#ff0000" stroke-width="1.6" stroke-dasharray="2.4 1.45"/>
<text x="365.6" y="49.15" font-size="9.3" letter-spacing="-0.31">l=−0.05, X=1.5</text>
<line x1="33.2" y1="62.2" x2="50.9" y2="62.2" stroke="#00ff00" stroke-width="1.6"/>
<text x="55.1" y="65.55" font-size="9.3" letter-spacing="-0.24">l=−0.075, X=1.2</text>
<line x1="326.1" y1="62.2" x2="359.3" y2="62.2" stroke="#00ff00" stroke-width="1.6" stroke-dasharray="2.4 1.45"/>
<text x="365.6" y="65.55" font-size="9.3" letter-spacing="-0.31">l=−0.075, X=1.5</text>
</g>
</svg></body></html>
